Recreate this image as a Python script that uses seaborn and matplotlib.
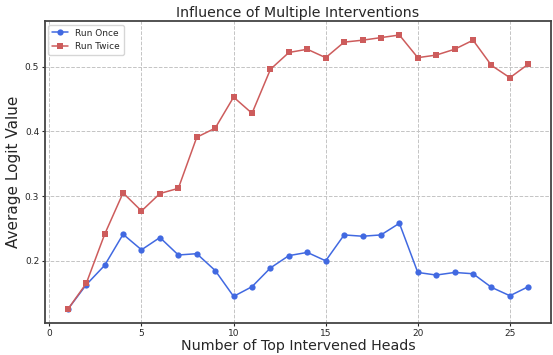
import pandas as pd
import numpy as np
import matplotlib
matplotlib.use("Agg")
import matplotlib.pyplot as plt
import seaborn as sns

# data
heads = list(range(1, 27))
run_once = [0.125, 0.163, 0.193, 0.241, 0.217, 0.236, 0.209, 0.211, 0.185, 0.145,
            0.160, 0.189, 0.208, 0.213, 0.200, 0.240, 0.238, 0.240, 0.258, 0.182,
            0.178, 0.182, 0.180, 0.159, 0.146, 0.160]
run_twice = [0.125, 0.165, 0.241, 0.305, 0.277, 0.304, 0.312, 0.391, 0.405, 0.453,
             0.428, 0.496, 0.522, 0.527, 0.514, 0.538, 0.541, 0.545, 0.549, 0.514,
             0.518, 0.527, 0.541, 0.502, 0.483, 0.504]

sns.set_style("white")
plt.rcParams['font.family'] = ['DejaVu Sans']

fig, ax = plt.subplots(figsize=(5.53, 3.55), dpi=100)
fig.subplots_adjust(left=0.081, right=0.997, top=0.94, bottom=0.09)

sns.lineplot(x=heads, y=run_once, marker='o', color='royalblue', label='Run Once',
             markersize=4.5, markeredgewidth=0, linewidth=1.1, ax=ax)
sns.lineplot(x=heads, y=run_twice, marker='s', color='indianred', label='Run Twice',
             markersize=4.5, markeredgewidth=0, linewidth=1.1, ax=ax)

ax.set_title('Influence of Multiple Interventions', fontsize=10.2, pad=3)
ax.set_xlabel('Number of Top Intervened Heads', fontsize=10.3, labelpad=1)
ax.set_ylabel('Average Logit Value', fontsize=11, labelpad=3)
ax.set_xticks([0, 5, 10, 15, 20, 25])
ax.set_yticks([0.2, 0.3, 0.4, 0.5])
ax.tick_params(labelsize=6.5, length=2, pad=2, left=True, bottom=True)
ax.grid(True, linestyle='--', color='#c4c4c4', linewidth=0.7)

for s in ax.spines.values():
    s.set_color('#444444')
    s.set_linewidth(1.3)

ax.legend(loc='upper left', fontsize=6.5, frameon=True, handlelength=1.8,
          borderaxespad=0.4)

plt.savefig('out.png', dpi=100)
